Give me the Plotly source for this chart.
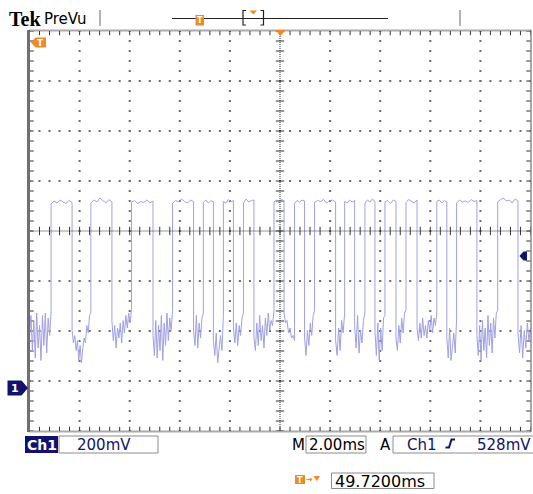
import numpy as np
import plotly.graph_objects as go

W, H = 533, 494

# ---------------- Ch1 record: 2.00 ms/div, 200 mV/div ----------------
# rising / falling edge times (ms, screen centre = 0)
rise_ms = [-9.14, -7.55, -5.93, -4.29, -3.06, -2.26, -1.46, -0.24, 0.58,
           1.38, 2.58, 3.39, 4.19, 5.03, 6.26, 7.05, 8.69]
fall_ms = [-8.30, -6.71, -5.07, -3.45, -2.66, -1.86, -1.04, 0.16, 0.98,
           2.22, 2.98, 3.79, 4.63, 5.47, 6.66, 7.86, 9.50]

# sampled low-level values (mV) between edges
low_mv = [
    [200, 290, 150, 270, 120, 300, 160, 250, 110, 290, 170, 300, 140, 280, 210, 300],
    [230, 180, 210, 150, 190, 110, 170, 100, 160, 200, 180, 250, 220, 290, 300],
    [270, 190, 250, 160, 240, 200, 260, 180, 270, 220, 290, 240, 300, 260, 310],
    [210, 130, 270, 120, 250, 150, 290, 110, 260, 170, 300, 190, 280, 230, 310],
    [230, 170, 290, 160, 260, 200, 280, 300],
    [190, 130, 220, 100, 170, 210, 150, 290],
    [240, 180, 260, 170, 250, 210, 280, 300],
    [200, 150, 260, 170, 290, 190, 250, 160, 280, 210, 300, 230, 270, 250, 310],
    [300, 260, 270, 220, 240, 200, 210, 190],
    [200, 130, 230, 170, 260, 210, 290, 310],
    [190, 130, 240, 150, 270, 220, 300],
    [250, 160, 290, 140, 230, 180, 270, 300],
    [230, 130, 260, 110, 240, 150, 280, 290],
    [200, 150, 250, 180, 280, 220, 300, 310],
    [240, 190, 260, 200, 280, 210, 250, 200, 270, 230, 290, 220, 280, 250, 300],
    [200, 120, 240, 110, 180, 220, 140, 280],
    [210, 130, 250, 110, 270, 150, 240, 120, 290, 170, 260, 140, 280, 200, 300, 310],
    [220, 140, 250, 120, 230, 160, 260, 190, 240],
]
# sampled high-level values (mV)
high_mv = [
    [736, 748, 740, 752, 744, 738, 750, 742],
    [740, 752, 744, 760, 748, 740, 754, 744],
    [744, 750, 738, 746, 742, 752, 740, 748],
    [738, 750, 744, 756, 746, 740, 752, 746],
    [742, 752, 740, 750, 744],
    [746, 740, 754, 744, 750],
    [740, 756, 744, 750, 752],
    [744, 752, 740, 756, 746],
    [738, 750, 744, 752, 748],
    [742, 750, 746, 754, 740, 748, 752, 744],
    [746, 740, 752, 744, 750],
    [740, 752, 744, 756, 746],
    [744, 750, 738, 752, 746],
    [742, 754, 746, 740, 752],
    [746, 752, 740, 750, 744],
    [740, 752, 744, 748, 742, 754, 746, 750],
    [744, 754, 760, 748, 752, 740, 756, 748],
]

time_div_ms = 2.0
volt_div_mv = 200.0
ground_div = -3.14          # Ch1 ground position, divisions from centre
trig_level_mv = 528.0

x_min, x_max = -5 * time_div_ms, 5 * time_div_ms
y_mid = -ground_div * volt_div_mv
y_min, y_max = y_mid - 4 * volt_div_mv, y_mid + 4 * volt_div_mv

# assemble the waveform segment by segment
bounds_lo = [x_min] + fall_ms
bounds_hi = rise_ms + [x_max]
t_all, v_all = [], []
for i, vals in enumerate(low_mv):
    a, b = bounds_lo[i], bounds_hi[i]
    t_all += list(np.linspace(a, b, len(vals)))
    v_all += vals
    if i < len(high_mv):
        hv = high_mv[i]
        t_all += list(np.linspace(rise_ms[i], fall_ms[i], len(hv)))
        v_all += hv

# ---------------- helpers for screen furniture ----------------
def X(p):
    return p / W

def Y(p):
    return 1 - p / H

NAVY = '#12126e'
ORANGE = '#ef8a26'
shapes, annots = [], []

def rect(x0, y0, x1, y1, fill=None, line=None, lw=1):
    shapes.append(dict(type='rect', xref='paper', yref='paper',
                       x0=X(x0), x1=X(x1), y0=Y(y1), y1=Y(y0),
                       fillcolor=fill or 'rgba(0,0,0,0)',
                       line=dict(color=line or 'rgba(0,0,0,0)', width=lw if line else 0),
                       layer='above'))

def poly(pts, fill):
    path = 'M ' + ' L '.join(f'{X(a):.5f},{Y(b):.5f}' for a, b in pts) + ' Z'
    shapes.append(dict(type='path', xref='paper', yref='paper', path=path,
                       fillcolor=fill, line=dict(width=0), layer='above'))

def seg(pts, color, lw=1, dash='solid'):
    path = 'M ' + ' L '.join(f'{X(a):.5f},{Y(b):.5f}' for a, b in pts)
    shapes.append(dict(type='path', xref='paper', yref='paper', path=path,
                       line=dict(color=color, width=lw, dash=dash), layer='above'))

def text(x, y, s, size=15, color='black', family='DejaVu Sans', anchor='left'):
    annots.append(dict(x=X(x), y=Y(y), xref='paper', yref='paper', text=s,
                       showarrow=False, xanchor=anchor, yanchor='middle',
                       font=dict(size=size, color=color, family=family)))

# graticule area in screen pixels
GL, GR, GT, GB = 29.5, 530.5, 31, 431

fig = go.Figure()

# graticule dots on the major lines
gx, gy = [], []
ymin_steps = np.arange(y_min, y_max + 1e-6, volt_div_mv / 5)
xmin_steps = np.arange(x_min, x_max + 1e-6, time_div_ms / 5)
for k in [-4, -3, -2, -1, 1, 2, 3, 4]:
    xv = k * time_div_ms
    gx += [xv] * len(ymin_steps)
    gy += list(ymin_steps)
for k in [-3, -2, -1, 1, 2, 3]:
    yv = y_mid + k * volt_div_mv
    gx += list(xmin_steps)
    gy += [yv] * len(xmin_steps)
fig.add_trace(go.Scatter(x=gx, y=gy, mode='markers', hoverinfo='skip',
                         marker=dict(symbol='square', size=2, color='#6a6a6a', line=dict(width=0))))

# centre cross ticks and edge ticks
tick_x = list(xmin_steps) * 3
tick_y = [y_mid] * len(xmin_steps) + [y_min] * len(xmin_steps) + [y_max] * len(xmin_steps)
fig.add_trace(go.Scatter(x=tick_x, y=tick_y, mode='markers', hoverinfo='skip',
                         marker=dict(symbol='line-ns', size=6, line=dict(width=1, color='#333333'))))
tick_x2 = [0.0] * len(ymin_steps) + [x_min] * len(ymin_steps) + [x_max] * len(ymin_steps)
tick_y2 = list(ymin_steps) * 3
fig.add_trace(go.Scatter(x=tick_x2, y=tick_y2, mode='markers', hoverinfo='skip',
                         marker=dict(symbol='line-ew', size=6, line=dict(width=1, color='#333333'))))

# Ch1 trace
fig.add_trace(go.Scatter(x=t_all, y=v_all, mode='lines', hoverinfo='skip',
                         line=dict(color='rgb(160,160,228)', width=1)))

# centre cross lines
shapes.append(dict(type='line', xref='x', yref='y', x0=0, x1=0, y0=y_min, y1=y_max,
                   line=dict(color='#333333', width=1, dash='1px,1px')))
shapes.append(dict(type='line', xref='x', yref='y', x0=x_min, x1=x_max, y0=y_mid, y1=y_mid,
                   line=dict(color='#333333', width=1, dash='1px,1px')))

# graticule frame
seg([(28.5, GT - 1), (28.5, GB + 1)], '#707070', lw=3)
seg([(GL, GT - 0.5), (GR + 0.5, GT - 0.5)], '#555555', lw=2, dash='1px,1px')
seg([(GL, GB + 0.5), (GR + 0.5, GB + 0.5)], '#555555', lw=2, dash='1px,1px')
seg([(GR + 0.5, GT - 0.5), (GR + 0.5, GB + 0.5)], '#555555', lw=2, dash='1px,1px')

# ---------------- top bar ----------------
text(7, 18.5, '<b>Tek</b>', size=20, family='Liberation Serif')
text(42, 18.5, 'PreVu', size=15)
seg([(100, 10), (100, 26)], '#9a9a9a', lw=1.5)
seg([(460, 10), (460, 26)], '#9a9a9a', lw=1.5)
seg([(172, 18.5), (388, 18.5)], '#222222', lw=1)
rect(195.5, 15, 204, 25.5, fill=ORANGE)
text(199.8, 20.5, '<b>T</b>', size=8, color='white', anchor='center')
seg([(246, 10.5), (243, 10.5), (243, 25), (246, 25)], '#222222', lw=1.2)
seg([(260.5, 10.5), (263.5, 10.5), (263.5, 25), (260.5, 25)], '#222222', lw=1.2)
poly([(249.5, 10.5), (257, 10.5), (253.3, 14.5)], ORANGE)

# trigger-position markers inside the graticule
poly([(31, 42.5), (35.5, 37.5), (46, 37.5), (46, 47.5), (35.5, 47.5)], ORANGE)
text(40.5, 42.8, '<b>T</b>', size=9, color='white', anchor='center')
poly([(275.5, 30), (285.7, 30), (280.6, 36)], ORANGE)

# ground marker for Ch1 (at 0 mV) and trigger level arrow
shapes.append(dict(type='path', xref='paper', yref='y', xsizemode='pixel', ysizemode='pixel',
                   xanchor=X(GL), yanchor=0.0,
                   path='M -22,-7.5 L -8,-7.5 L -1.5,0 L -8,7.5 L -22,7.5 Z',
                   fillcolor=NAVY, line=dict(width=0), layer='above'))
annots.append(dict(x=X(15), y=0.0, xref='paper', yref='y', text='<b>1</b>', showarrow=False,
                   xanchor='center', yanchor='middle',
                   font=dict(size=11, color='white', family='DejaVu Sans')))
shapes.append(dict(type='path', xref='paper', yref='y', xsizemode='pixel', ysizemode='pixel',
                   xanchor=X(GR), yanchor=trig_level_mv,
                   path='M -11,0 L -7,4.5 L -3.5,4.5 L -3.5,-4.5 L -7,-4.5 Z',
                   fillcolor=NAVY, line=dict(width=0), layer='above'))

# ---------------- status bar ----------------
rect(25, 436, 58, 453, fill=NAVY)
text(41.5, 444.5, '<b>Ch1</b>', size=14, color='white', anchor='center')
rect(59, 436, 158, 453, line='#8c8c8c')
text(75, 444.5, '200mV', color=NAVY)
text(290, 444.5, 'M')
rect(306, 436, 366, 453, line='#8c8c8c')
text(307, 444.5, '2.00ms')
text(378, 444.5, 'A')
rect(393, 436, 533.5, 453, line='#8c8c8c')
text(405, 444.5, 'Ch1', color=NAVY)
seg([(445.5, 447.5), (449, 447.5), (451.5, 439.5), (455, 439.5)], NAVY, lw=2)
text(475, 444.5, '528mV', color=NAVY)

rect(295, 475, 305, 484, fill=ORANGE)
text(300, 480, '<b>T</b>', size=8, color='white', anchor='center')
seg([(306.5, 479.5), (312, 479.5)], ORANGE, lw=1.2)
poly([(310, 477.5), (312.5, 479.5), (310, 481.5)], ORANGE)
poly([(313.5, 476), (320, 476), (316.8, 481)], ORANGE)
rect(331.5, 473, 434, 488.5, line='#8c8c8c')
text(333, 481, '49.7200ms', size=16)

fig.update_layout(
    width=W, height=H,
    margin=dict(l=0, r=0, t=0, b=0),
    paper_bgcolor='white', plot_bgcolor='white',
    showlegend=False,
    xaxis=dict(domain=[X(GL), X(GR)], range=[x_min, x_max], visible=False, fixedrange=True),
    yaxis=dict(domain=[Y(GB), Y(GT)], range=[y_min, y_max], visible=False, fixedrange=True),
    shapes=shapes, annotations=annots,
)

fig.write_html('out.html')
